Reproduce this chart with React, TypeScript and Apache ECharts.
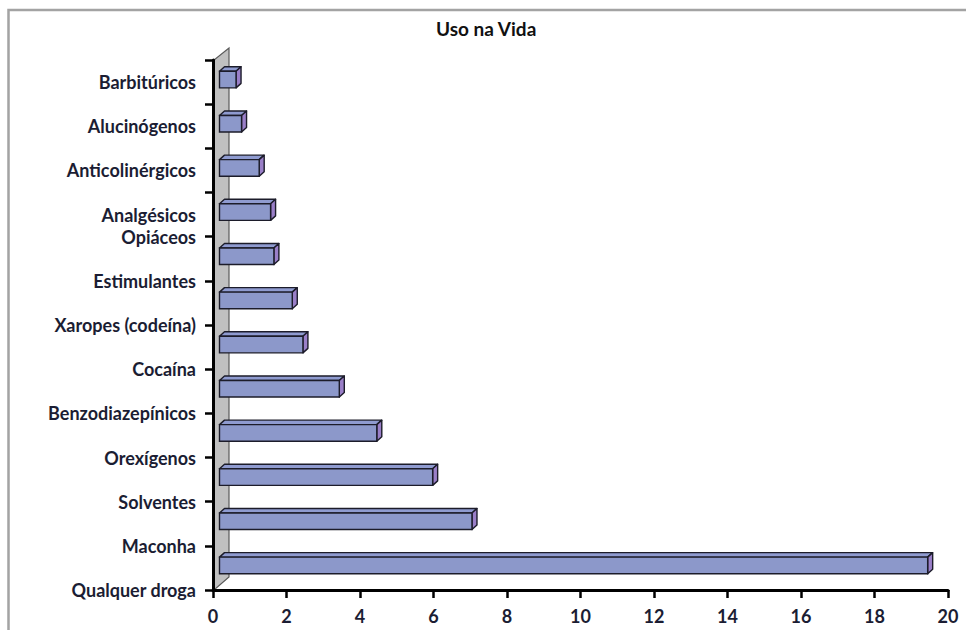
import React, { useEffect, useRef } from "react";
import * as echarts from "echarts";

const categories = [
  "Barbitúricos",
  "Alucinógenos",
  "Anticolinérgicos",
  "Analgésicos Opiáceos",
  "Estimulantes",
  "Xaropes (codeína)",
  "Cocaína",
  "Benzodiazepínicos",
  "Orexígenos",
  "Solventes",
  "Maconha",
  "Qualquer droga",
];
const values = [0.45, 0.6, 1.08, 1.39, 1.48, 1.98, 2.27, 3.26, 4.28, 5.8, 6.87, 19.27];
const xMin = 0;
const xMax = 20;
const xStep = 2;
const titleText = "Uso na Vida";

const FONT = "Lato";
const TEXT_COLOR = "#1b1d33";

export default function App() {
  const ref = useRef<HTMLDivElement>(null);
  useEffect(() => {
    if (!ref.current) return;
    const chart = echarts.init(ref.current, undefined, { renderer: "svg" });
    const n = categories.length;
    const splitName = categories[3].split(" ");
    const labelStyle = { fontFamily: FONT, fontSize: 18, fontWeight: "bold", color: TEXT_COLOR };

    const option: any = {
      animation: false,
      backgroundColor: "#ffffff",
      title: {
        text: titleText,
        left: 436,
        top: 19,
        padding: 0,
        textStyle: { fontFamily: FONT, fontSize: 19, fontWeight: "bold", color: "#111" },
      },
      graphic: [
        {
          type: "rect",
          shape: { x: 8.5, y: 10, width: 1000, height: 700 },
          style: { fill: "none", stroke: "#a3a3a3", lineWidth: 2.5 },
          silent: true,
        },
      ],
      grid: { left: 213, right: 18, top: 60, bottom: 40, containLabel: false },
      xAxis: {
        type: "value",
        min: xMin,
        max: xMax,
        interval: xStep,
        z: 5,
        axisLine: { show: true, onZero: false, lineStyle: { color: "#000", width: 3 } },
        axisTick: { show: true, length: 8, lineStyle: { color: "#000", width: 2.5 } },
        splitLine: { show: false },
        axisLabel: { ...labelStyle, margin: 17 },
      },
      yAxis: [
        {
          type: "category",
          data: categories,
          inverse: true,
          z: 5,
          axisLine: { show: true, onZero: false, lineStyle: { color: "#000", width: 3 } },
          axisTick: { show: true, length: 8, lineStyle: { color: "#000", width: 2.5 } },
          splitLine: { show: false },
          axisLabel: {
            ...labelStyle,
            margin: 17,
            interval: 0,
            formatter: (v: string, i: number) => (i < 3 ? v : i === 3 ? splitName[0] : ""),
          },
        },
        {
          type: "value",
          min: 0,
          max: n,
          interval: 1,
          inverse: true,
          position: "left",
          axisLine: { show: false, onZero: false },
          axisTick: { show: false },
          splitLine: { show: false },
          axisLabel: {
            ...labelStyle,
            margin: 17,
            showMinLabel: true,
            showMaxLabel: true,
            formatter: (v: number) =>
              v === 4 ? splitName.slice(1).join(" ") : v >= 5 ? categories[v - 1] : "",
          },
        },
      ],
      series: [
        {
          type: "custom",
          name: "wall",
          xAxisIndex: 0,
          yAxisIndex: 0,
          z: 1,
          silent: true,
          data: [[0, categories[0]]],
          encode: { x: 0, y: 1 },
          renderItem: (params: any, api: any) => {
            const band = api.size([0, 1])[1];
            const top = api.coord([0, 0]);
            const bot = api.coord([0, n - 1]);
            const x = top[0] + 1;
            const yT = top[1] - band / 2;
            const yB = bot[1] + band / 2;
            return {
              type: "polygon",
              shape: {
                points: [
                  [x, yB],
                  [x, yT],
                  [x + 15, yT - 12],
                  [x + 15, yB - 13],
                ],
              },
              style: { fill: "#c0c0c0", stroke: "#5a5a5a", lineWidth: 1.2 },
            };
          },
        },
        {
          type: "custom",
          name: "Uso na Vida",
          xAxisIndex: 0,
          yAxisIndex: 0,
          z: 2,
          data: values.map((v, i) => [v, categories[i]]),
          encode: { x: 0, y: 1 },
          renderItem: (params: any, api: any) => {
            const idx = api.value(1);
            const v = api.value(0);
            const base = api.coord([0, idx]);
            const end = api.coord([v, idx]);
            const band = api.size([0, 1])[1];
            const h = band * 0.375;
            const dx = 6.5;
            const ddx = 5;
            const ddy = -4.5;
            const x0 = base[0] + dx;
            const x1 = end[0] + dx;
            const yT = base[1] - 2.5 - h / 2;
            const yB = yT + h;
            const stroke = "#1c1c2a";
            const lw = 1.4;
            return {
              type: "group",
              children: [
                {
                  type: "polygon",
                  shape: { points: [[x0, yT], [x0 + ddx, yT + ddy], [x1 + ddx, yT + ddy], [x1, yT]] },
                  style: { fill: "#8f9bd0", stroke, lineWidth: lw, lineJoin: "round" },
                },
                {
                  type: "polygon",
                  shape: { points: [[x1, yT], [x1 + ddx, yT + ddy], [x1 + ddx, yB + ddy], [x1, yB]] },
                  style: { fill: "#9a7fc8", stroke, lineWidth: lw, lineJoin: "round" },
                },
                {
                  type: "rect",
                  shape: { x: x0, y: yT, width: Math.max(0, x1 - x0), height: h },
                  style: { fill: "#8c98ca", stroke, lineWidth: lw },
                },
              ],
            };
          },
        },
      ],
    };
    chart.setOption(option);
    return () => chart.dispose();
  }, []);
  return (
    <div
      ref={ref}
      style={{ position: "fixed", left: 0, top: 0, width: 966, height: 630, background: "#fff" }}
    />
  );
}
